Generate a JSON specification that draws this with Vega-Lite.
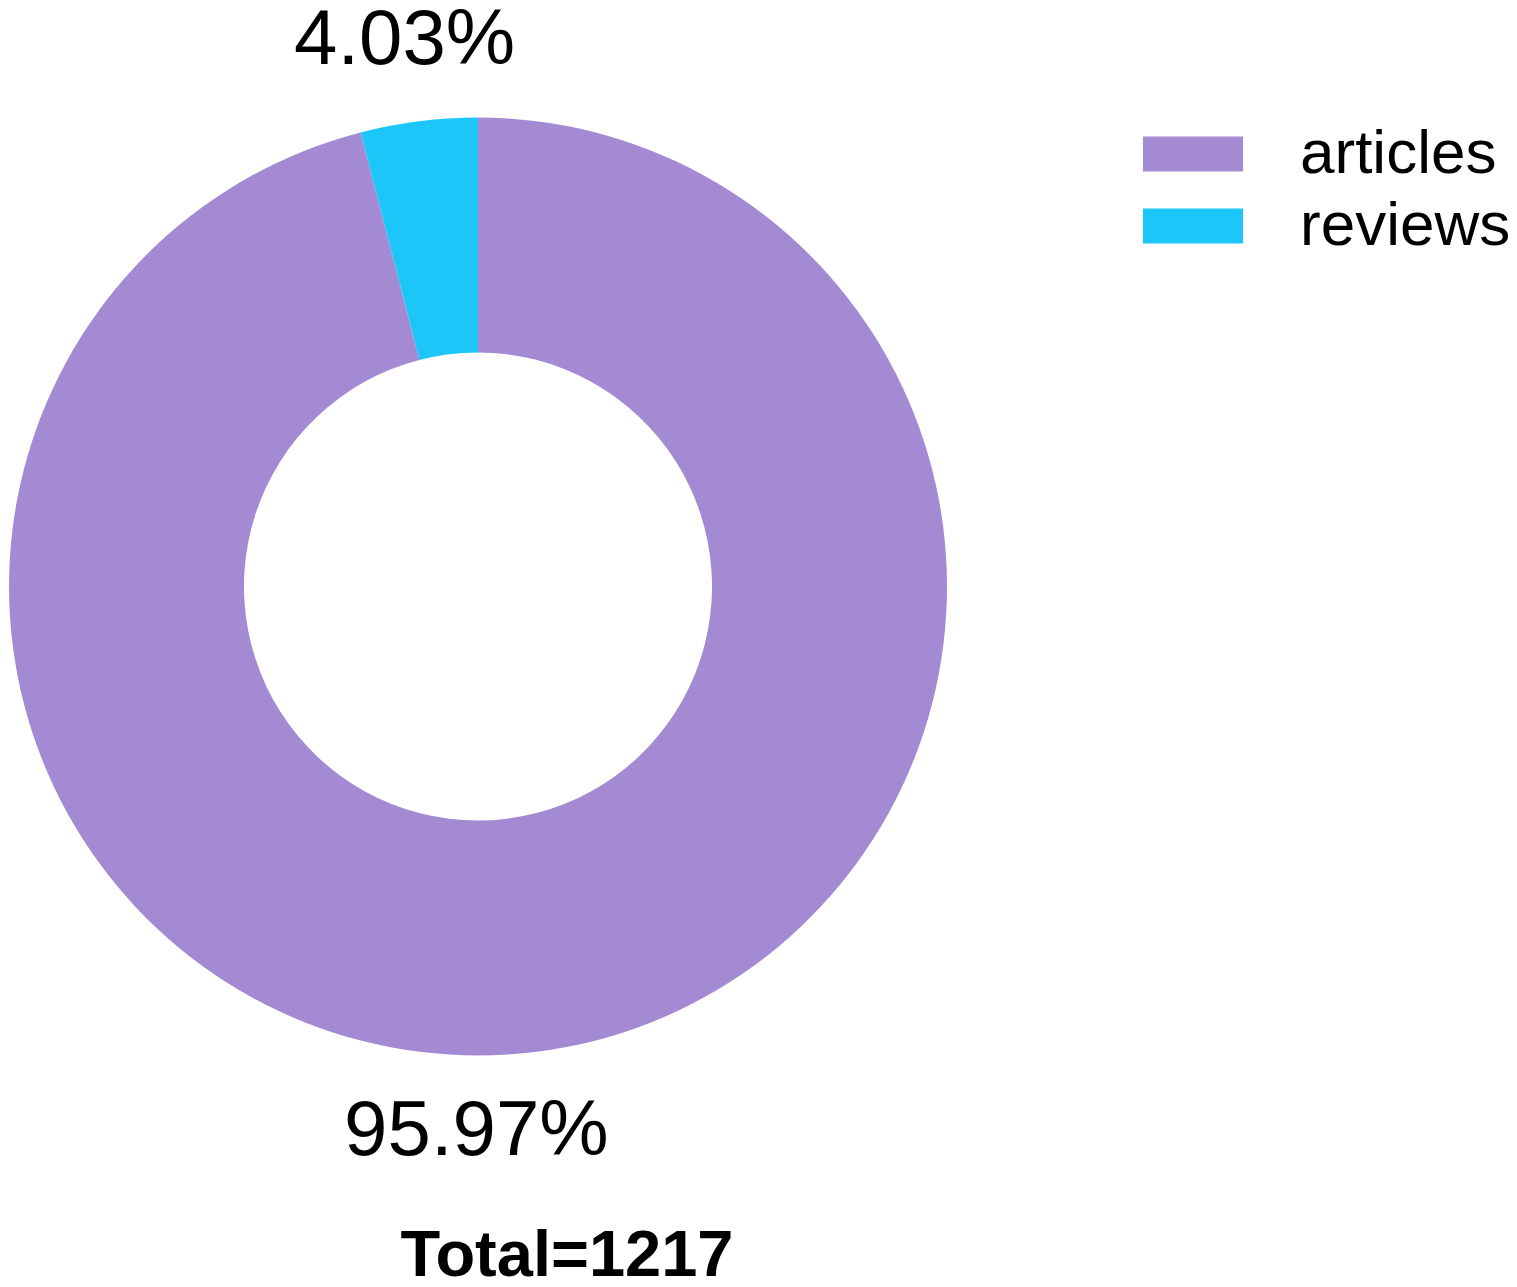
{
  "$schema": "https://vega.github.io/schema/vega-lite/v6.json",
  "width": 956,
  "height": 1173,
  "autosize": {"type": "pad"},
  "padding": 0,
  "background": "white",
  "config": {"view": {"stroke": null}},
  "title": {
    "text": "Total=1217",
    "orient": "bottom",
    "anchor": "middle",
    "font": "Liberation Sans",
    "fontSize": 65,
    "fontWeight": "bold",
    "color": "black",
    "baseline": "alphabetic",
    "offset": 103,
    "dx": 89
  },
  "data": {
    "values": [
      {"type": "articles", "count": 1168, "label": "95.97%"},
      {"type": "reviews", "count": 49, "label": "4.03%"}
    ]
  },
  "encoding": {
    "theta": {"field": "count", "type": "quantitative", "stack": true},
    "order": {"field": "type", "sort": "ascending"}
  },
  "layer": [
    {
      "mark": {"type": "arc", "outerRadius": 469, "innerRadius": 234},
      "encoding": {
        "color": {
          "field": "type",
          "type": "nominal",
          "scale": {"domain": ["articles", "reviews"], "range": ["#A38AD3", "#1CC6F9"]},
          "legend": {
            "orient": "none",
            "legendX": 1158,
            "legendY": 119,
            "title": null,
            "padding": 0,
            "symbolType": "M-1.43,-0.5H1.43V0.5H-1.43Z",
            "symbolSize": 4900,
            "symbolStrokeWidth": 0,
            "symbolOpacity": 1,
            "labelFont": "Liberation Sans",
            "labelFontSize": 62,
            "labelColor": "black",
            "labelOffset": 72,
            "labelLimit": 400,
            "rowPadding": 6
          }
        }
      }
    },
    {
      "mark": {
        "type": "text",
        "radius": 550,
        "dx": {"expr": "datum.type === 'articles' ? -71 : -4"},
        "font": "Liberation Sans",
        "fontSize": 78,
        "color": "black",
        "baseline": "middle",
        "align": "center"
      },
      "encoding": {
        "text": {"field": "label"}
      }
    }
  ]
}
